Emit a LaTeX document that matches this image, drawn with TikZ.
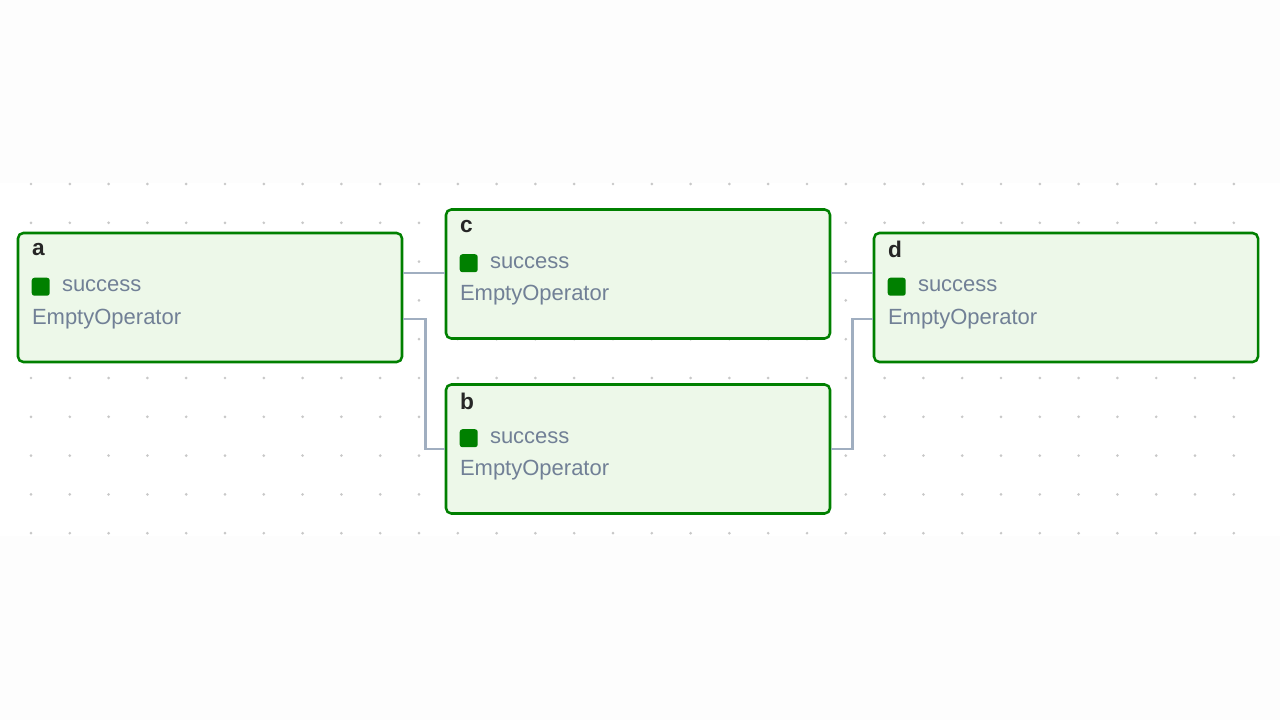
\documentclass[tikz,border=0pt]{standalone}
\usepackage{fontspec}
\setmainfont{Liberation Sans}
\usetikzlibrary{calc}
\definecolor{okgreen}{HTML}{008000}
\definecolor{okfill}{HTML}{EDF8E9}
\definecolor{edgegray}{HTML}{A0AEC0}
\definecolor{labelgray}{HTML}{718096}
\definecolor{dotgray}{HTML}{C8C8C8}
\tikzset{
  taskbox/.style={draw=okgreen,fill=okfill,line width=1.9pt,rounded corners=4pt,
    minimum width=288pt,minimum height=96.75pt,inner sep=0},
  tasktitle/.style={anchor=west,inner sep=0,font=\fontsize{17}{19}\selectfont\bfseries,text=black!85},
  tasklabel/.style={anchor=west,inner sep=0,font=\fontsize{16.5}{18}\selectfont,text=labelgray},
  edge/.style={draw=edgegray,line width=1.9pt}
}
\newcommand{\task}[3]{%
  \node[taskbox] (#1) at (#2,#3) {};
  \node[tasktitle] (#1-title) at ($(#1.north west)+(15,18)$) {#1};
  \fill[okgreen,rounded corners=2pt] ($(#1.north west)+(15,46)$) rectangle ($(#1.north west)+(33,64)$);
  \node[tasklabel] (#1-state) at ($(#1.north west)+(45,54)$) {success};
  \node[tasklabel] (#1-op) at ($(#1.north west)+(15,87)$) {EmptyOperator};
}
\begin{document}
\begin{tikzpicture}[x=0.75pt,y=0.75pt,yscale=-1,xscale=1]
	\fill[white!99.3!black] (0,0) rectangle (1280,720);
	\useasboundingbox (0,0) rectangle (1280,720);
	\fill[white] (0,183) rectangle (1280,536);
	% grid
	\foreach \i in {0,...,31} {
		\foreach \j in {0,...,9} {
			\fill[dotgray] (31+38.8*\i,184+38.8*\j) circle (1.1pt);
		}
	}

	% Tasks
	\task{a}{210}{297.5}
	\task{c}{638}{274}
	\task{b}{638}{449}
	\task{d}{1066}{297.5}

	% Connections
	\coordinate (a-out1) at ($(a.east)+(0,-24.5)$);
	\coordinate (a-out2) at ($(a.east)+(0,21.5)$);
	\coordinate (d-in1) at ($(d.west)+(0,-24.5)$);
	\coordinate (d-in2) at ($(d.west)+(0,21.5)$);
	\draw[edge] (a-out1) -- (a-out1 -| c.west);
	\draw[edge] (a-out2) -- ++(22,0) |- (b.west);
	\draw[edge] (c.east |- d-in1) -- (d-in1);
	\draw[edge] (b.east) -- ++(21,0) |- (d-in2);
\end{tikzpicture}
\end{document}
